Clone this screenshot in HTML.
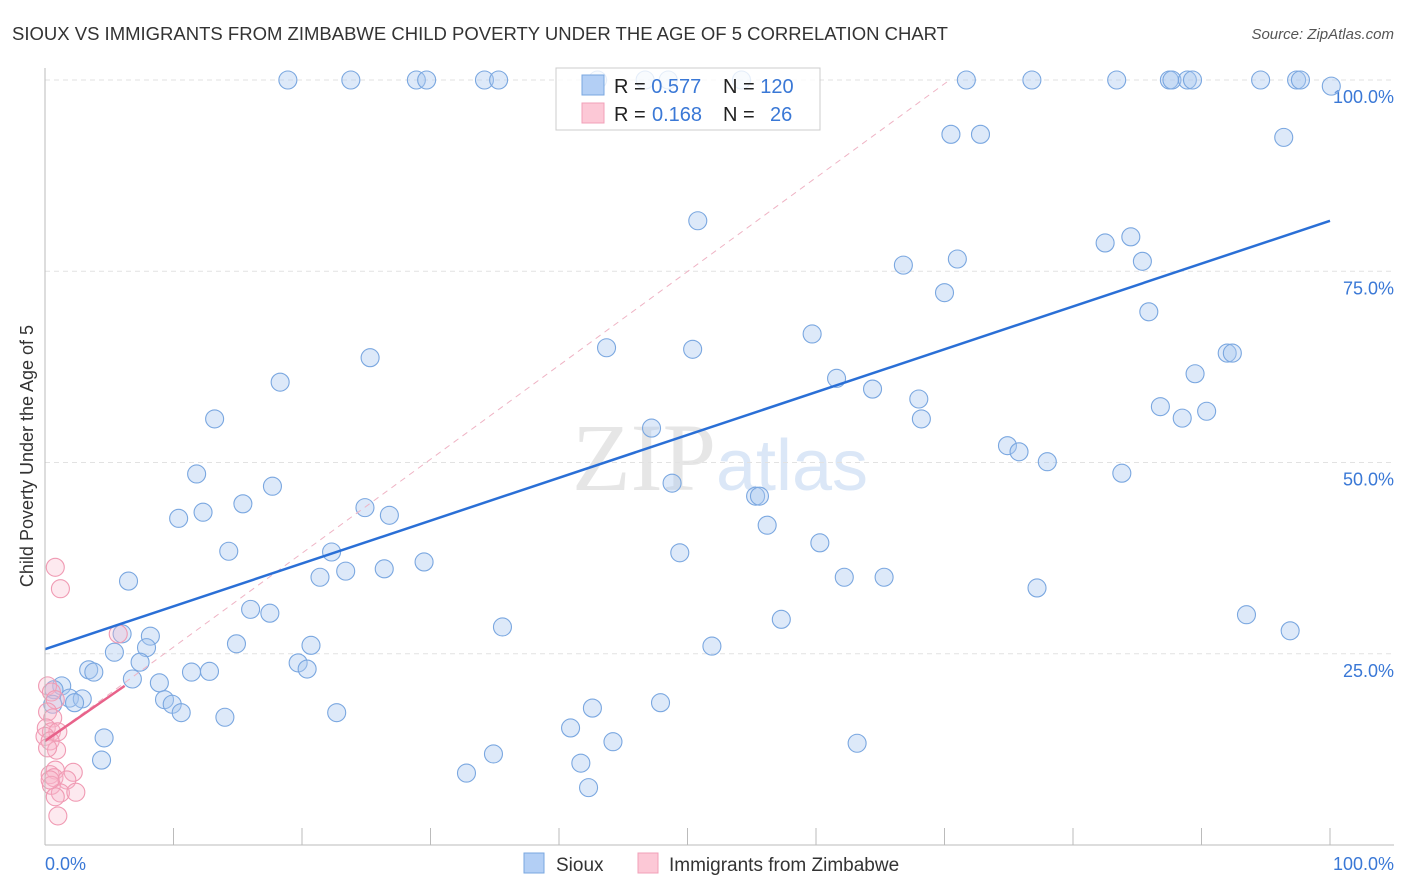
<!DOCTYPE html>
<html><head><meta charset="utf-8"><style>
body{margin:0;background:#fff;font-family:"Liberation Sans",sans-serif}
svg{display:block}
</style></head><body>
<svg id="c" width="1406" height="892">
<text x="12" y="40" font-size="18" fill="#333" textLength="936" lengthAdjust="spacingAndGlyphs">SIOUX VS IMMIGRANTS FROM ZIMBABWE CHILD POVERTY UNDER THE AGE OF 5 CORRELATION CHART</text>
<text x="1394" y="39" font-size="15" fill="#555" font-style="italic" text-anchor="end">Source: ZipAtlas.com</text>
<text x="720" y="490" font-size="96" fill="#e6e6e6" text-anchor="middle" font-family="Liberation Serif">ZIP<tspan fill="#dbe7f7" font-family="Liberation Sans" font-size="72">atlas</tspan></text>
<g id="grid"></g><g id="pts"></g><g id="lines"></g>
<line x1="45" y1="68" x2="45" y2="845" stroke="#bbb"/>
<line x1="45" y1="845" x2="1394" y2="845" stroke="#bbb"/>
<text x="45" y="870" font-size="18" fill="#3a78d6">0.0%</text>
<text x="1394" y="870" font-size="18" fill="#3a78d6" text-anchor="end">100.0%</text>
<text transform="translate(33,456) rotate(-90)" font-size="18" fill="#333" text-anchor="middle">Child Poverty Under the Age of 5</text>
<g>
<rect x="556" y="68" width="264" height="62" fill="#fff" fill-opacity="0.8" stroke="#ccc"/>
<rect x="582" y="75" width="22" height="20" fill="#b3cff5" stroke="#7aa7e0"/>
<rect x="582" y="103" width="22" height="20" fill="#fcc8d6" stroke="#f2a0b8"/>
<text x="614" y="93" font-size="20" fill="#222">R = <tspan fill="#3a78d6">0.577</tspan><tspan x="723">N = </tspan><tspan fill="#3a78d6">120</tspan></text>
<text x="614" y="121" font-size="20" fill="#222">R = <tspan fill="#3a78d6" x="652">0.168</tspan><tspan x="723">N = </tspan><tspan fill="#3a78d6" x="770">26</tspan></text>
</g>
<g>
<rect x="524" y="853" width="20" height="20" fill="#b3cff5" stroke="#7aa7e0"/>
<text x="556" y="871" font-size="19" fill="#333">Sioux</text>
<rect x="638" y="853" width="20" height="20" fill="#fcc8d6" stroke="#f2a0b8"/>
<text x="669" y="871" font-size="19" fill="#333">Immigrants from Zimbabwe</text>
</g>
</svg>
<script>
const yTicks=[25,50,75,100];
const yTickLabels=["25.0%","50.0%","75.0%","100.0%"];
const xTicks=[0,10,20,30,40,50,60,70,80,90,100];
const siouxPx=[[288,80],[351,80],[417,80],[427,80],[484,80],[498,80],[598,80],[645,80],[668,80],[742,80],[966,80],[1032,80],[1117,80],[1170,80],[1172,80],[1188,80],[1192,80],[1260,80],[1296,80],[1301,80],[1331,86],[951,134],[981,134],[1284,137],[698,221],[1105,243],[1131,237],[1142,261],[903,265],[957,259],[944,293],[1149,312],[812,334],[606,348],[693,349],[370,358],[1227,353],[1232,353],[280,382],[1195,374],[836,378],[873,389],[919,399],[922,419],[214,419],[1161,407],[1182,418],[1206,411],[652,428],[1008,446],[1019,452],[1047,462],[1122,473],[197,474],[672,483],[273,486],[755,496],[760,496],[243,504],[365,508],[203,512],[179,518],[390,515],[767,525],[229,551],[332,552],[680,553],[820,543],[424,562],[320,577],[346,571],[384,569],[844,577],[884,577],[128,581],[1037,588],[250,609],[270,613],[1247,615],[781,619],[502,627],[1290,631],[151,636],[122,634],[236,644],[311,645],[146,648],[712,646],[115,652],[140,662],[298,663],[307,669],[89,670],[94,672],[191,672],[210,671],[159,683],[132,679],[62,686],[54,690],[69,698],[82,699],[164,700],[172,704],[53,704],[74,703],[181,713],[225,717],[337,713],[661,703],[593,708],[570,728],[104,738],[857,743],[613,742],[493,754],[101,760],[581,763],[466,773],[588,788]];
const zimPx=[[55,567],[60,589],[118,634],[48,686],[52,692],[55,700],[48,712],[53,718],[46,728],[52,732],[58,732],[45,736],[50,741],[57,750],[48,748],[55,770],[50,775],[73,772],[54,778],[67,780],[52,785],[60,793],[76,792],[55,797],[58,816],[50,780]];
const siouxX=siouxPx.map(p=>+((p[0]-45)/12.85).toFixed(1));
const siouxY=siouxPx.map(p=>+((845-p[1])/7.65).toFixed(1));
const zimX=zimPx.map(p=>+((p[0]-45)/12.85).toFixed(1));
const zimY=zimPx.map(p=>+((845-p[1])/7.65).toFixed(1));
const siouxTrend=[[0,25.6],[100,81.6]];
const zimTrend=[[0,13.6],[6.2,20.8]];
const zimDash=[[0,13.6],[70.4,100]];
const X=v=>45+v*12.85, Y=v=>845-v*7.65;
const NS="http://www.w3.org/2000/svg";
function mk(tag,attrs,parent){const e=document.createElementNS(NS,tag);for(const k in attrs)e.setAttribute(k,attrs[k]);document.getElementById(parent).appendChild(e);return e;}
yTicks.forEach((t,i)=>{
 const l=mk('line',{x1:45,x2:1394,y1:Y(t),y2:Y(t),stroke:'#e2e2e2','stroke-dasharray':'5,4'},'grid');
 
 
 const tx=mk('text',{x:1394,y:Y(t)+23,'font-size':18,fill:'#3a78d6','text-anchor':'end'},'grid');
 tx.textContent=yTickLabels[i];
 
 
});
xTicks.forEach(t=>{
 const l=mk('line',{x1:X(t),x2:X(t),y1:828,y2:845,stroke:'#bbb'},'grid');
 
 
});
siouxX.forEach((x,i)=>{
 const c=mk('circle',{cx:X(x),cy:Y(siouxY[i]),r:9,fill:'#a9c8f0','fill-opacity':0.4,stroke:'#7aa7e0','stroke-width':1.1},'pts');
 
 
});
zimX.forEach((x,i)=>{
 const c=mk('circle',{cx:X(x),cy:Y(zimY[i]),r:9,fill:'#f8b6c9','fill-opacity':0.3,stroke:'#f09ab3','stroke-width':1.1},'pts');
 
 
});
const d=mk('line',{x1:X(zimDash[0][0]),y1:Y(zimDash[0][1]),x2:X(zimDash[1][0]),y2:Y(zimDash[1][1]),stroke:'#efb3c4','stroke-dasharray':'6,5','stroke-width':1},'lines');


const s=mk('line',{x1:X(siouxTrend[0][0]),y1:Y(siouxTrend[0][1]),x2:X(siouxTrend[1][0]),y2:Y(siouxTrend[1][1]),stroke:'#2a6fd6','stroke-width':2.5},'lines');


const z=mk('line',{x1:X(zimTrend[0][0]),y1:Y(zimTrend[0][1]),x2:X(zimTrend[1][0]),y2:Y(zimTrend[1][1]),stroke:'#e8628a','stroke-width':2.5},'lines');


</script>
</body></html>
